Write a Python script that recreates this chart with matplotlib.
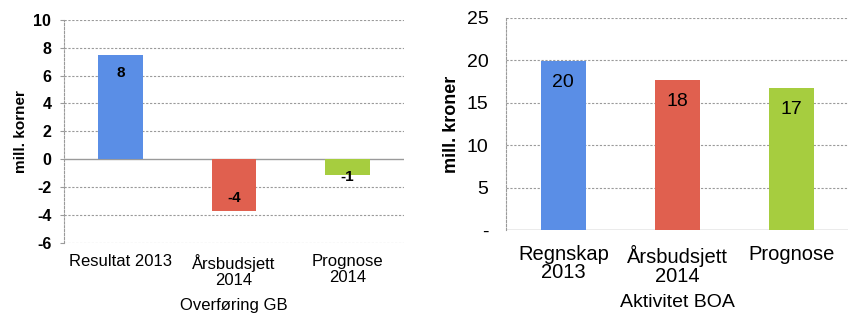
import matplotlib
matplotlib.use("Agg")
import numpy as np
import matplotlib.pyplot as plt

plt.rcParams['font.family'] = ['Liberation Sans', 'DejaVu Sans']

# data
gb_labels = ["Resultat 2013", "Årsbudsjett\n2014", "Prognose\n2014"]
gb_values = [7.5, -3.7, -1.1]
gb_text = ["8", "-4", "-1"]

boa_labels = ["Regnskap\n2013", "Årsbudsjett\n2014", "Prognose"]
boa_values = [19.9, 17.7, 16.7]
boa_text = ["20", "18", "17"]

colors = ["#5a8ee6", "#e0604f", "#a6cd3f"]
grid_c = "#9a9a9a"

fig = plt.figure(figsize=(8.51, 3.15), dpi=100)

# left chart
ax1 = fig.add_axes([0.075, 0.229, 0.40, 0.708])
x = np.arange(len(gb_values))
ax1.bar(x, gb_values, width=0.39, color=colors, zorder=3)
ax1.set_xlim(-0.5, 2.5)
ax1.set_ylim(-6, 10)
ax1.set_yticks(np.arange(-6, 11, 2))
ax1.set_yticklabels([str(v) for v in range(-6, 11, 2)], fontsize=11.5, fontweight='bold')
ax1.set_xticks(x)
ax1.set_xticklabels(gb_labels, fontsize=12)
ax1.tick_params(axis='x', length=0, pad=8)
ax1.tick_params(axis='y', length=3, color=grid_c, pad=6)
for t in ax1.get_xticklabels():
    t.set_linespacing(1.1)
for yv in range(-6, 11, 2):
    if yv == 0:
        ax1.axhline(yv, color=grid_c, lw=1.0, zorder=2)
    else:
        ax1.axhline(yv, color=grid_c, lw=0.8, ls=(0, (2, 1.5)), zorder=1)
for s in ['top', 'right', 'bottom']:
    ax1.spines[s].set_visible(False)
ax1.spines['left'].set_color(grid_c)
ax1.spines['left'].set_linestyle((0, (2, 1.5)))
ax1.set_ylabel("mill. korner", fontsize=11, fontweight='bold', labelpad=4)
ax1.set_xlabel("Overføring GB", fontsize=12, labelpad=7)
offs = [-1.3, 0.95, -0.15]
for i, (v, t) in enumerate(zip(gb_values, gb_text)):
    ax1.text(x[i], v + offs[i], t, ha='center', va='center', fontsize=11,
             fontweight='bold', zorder=4)

# right chart
ax2 = fig.add_axes([0.595, 0.270, 0.402, 0.673])
x2 = np.arange(len(boa_values))
ax2.bar(x2, boa_values, width=0.39, color=colors, zorder=3)
ax2.set_xlim(-0.5, 2.5)
ax2.set_ylim(0, 25)
ax2.set_yticks(np.arange(0, 26, 5))
ax2.set_yticklabels(["-", "5", "10", "15", "20", "25"], fontsize=14)
ax2.set_xticks(x2)
ax2.set_xticklabels(boa_labels, fontsize=14.5)
for t in ax2.get_xticklabels():
    t.set_linespacing(0.95)
ax2.tick_params(axis='x', length=0, pad=11)
ax2.tick_params(axis='y', length=0, pad=13)
for yv in range(5, 26, 5):
    ax2.axhline(yv, color=grid_c, lw=0.8, ls=(0, (2, 1.5)), zorder=1)
ax2.axhline(0, color=grid_c, lw=1.0, zorder=2)
for s in ['top', 'right', 'bottom']:
    ax2.spines[s].set_visible(False)
ax2.spines['left'].set_color(grid_c)
ax2.spines['left'].set_linestyle((0, (2, 1.5)))
ax2.set_ylabel("mill. kroner", fontsize=13, fontweight='bold', labelpad=5)
ax2.set_xlabel("Aktivitet BOA", fontsize=14, labelpad=6)
for i, (v, t) in enumerate(zip(boa_values, boa_text)):
    ax2.text(x2[i], v - 2.5, t, ha='center', va='center', fontsize=14, zorder=4)

fig.savefig("out.png", dpi=100)
